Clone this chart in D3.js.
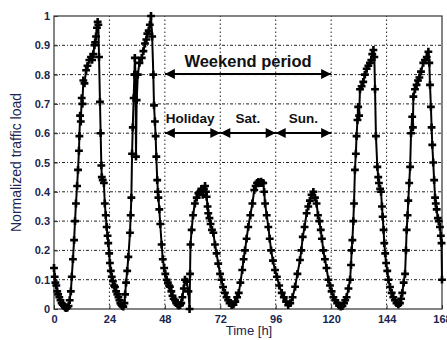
<!DOCTYPE html>
<html>
<head>
<meta charset="utf-8">
<script src="https://cdn.jsdelivr.net/npm/d3@7"></script>
<style>
  body { margin:0; background:#fff; }
  text { font-family: Arial, "Liberation Sans", sans-serif; }
</style>
</head>
<body>
<div id="chart"></div>
<script>
//DATA
var hours = [0,0.3,0.6,1.0,1.4,1.8,2.3,2.8,3.3,3.8,4.3,4.8,5.3,5.8,6.3,6.8,7.3,7.7,8.2,8.7,9.1,9.5,10.0,10.4,10.8,11.0,11.3,11.6,12.0,12.3,12.7,13.2,13.9,14.5,15.3,16.0,16.5,17.0,17.5,17.8,18.2,18.6,18.9,19.2,19.5,19.9,20.2,20.5,20.7,21.1,21.6,22.0,22.4,22.8,23.2,23.5,23.9,24.2,24.6,25.0,25.5,26.0,26.4,26.9,27.4,27.9,28.3,28.7,29.1,29.5,30.0,30.5,30.8,31.2,31.7,32.2,32.9,33.2,33.5,33.8,34.1,34.5,34.8,35.0,35.3,35.5,35.8,36.3,37.0,38.0,38.7,39.4,40.0,40.4,41.0,41.5,42.0,42.5,43.0,43.3,43.7,44.0,44.3,44.7,45.0,45.2,45.6,46.0,46.6,47.1,47.7,48.2,48.8,49.3,49.8,50.2,50.8,51.3,51.8,52.4,52.9,53.5,54.0,54.6,55.1,55.6,56.2,56.7,57.4,58.2,58.7,58.9,59.1,59.6,60.2,61.0,61.8,62.5,63.2,63.8,64.4,64.9,65.4,65.8,66.1,66.5,66.8,67.3,67.8,68.4,69.0,69.7,70.4,71.1,71.9,72.5,73.2,74.0,74.7,75.4,76.0,76.9,77.7,78.5,79.3,80.0,80.7,81.5,82.1,82.7,83.4,84.1,85.0,85.9,86.7,87.3,87.9,88.5,89.1,89.7,90.2,90.6,91.0,91.4,92.1,92.8,93.4,94.0,94.8,95.7,96.5,97.5,98.6,99.5,100.5,101.4,102.3,103.3,104.4,105.4,106.5,107.1,107.7,108.5,109.4,110.1,110.8,111.5,112.3,113.0,113.7,114.3,114.9,115.5,116.0,116.6,117.3,118.0,118.8,119.5,120.2,121.0,121.8,122.6,123.4,124.2,124.9,125.6,126.1,126.7,127.5,128.2,128.6,128.9,129.2,129.6,129.9,130.3,130.7,131.0,131.4,131.7,132.1,132.5,133.2,133.9,134.6,135.4,136.1,136.8,137.4,137.8,138.3,138.7,139.0,139.4,140.0,140.4,140.7,141.2,141.6,142.0,142.3,142.7,143.0,143.4,143.8,144.3,144.8,145.5,146.2,146.9,147.6,148.3,149.1,149.8,150.3,150.8,151.4,152.0,152.4,152.7,153.1,153.4,153.8,154.2,154.6,155.1,155.4,155.6,156.3,157.0,157.6,158.2,158.9,159.9,160.6,161.4,162.1,162.5,162.8,163.2,163.5,163.8,164.2,164.6,165.0,165.3,165.7,166.2,166.6,167.1,167.5,167.8,168];
var load = [0.14,0.11,0.09,0.08,0.06,0.05,0.04,0.03,0.02,0.015,0.01,0.005,0.003,0.005,0.01,0.03,0.06,0.11,0.17,0.235,0.30,0.36,0.42,0.475,0.54,0.59,0.66,0.64,0.72,0.70,0.78,0.77,0.815,0.83,0.85,0.86,0.85,0.87,0.90,0.91,0.93,0.96,0.98,0.97,0.86,0.707,0.60,0.49,0.45,0.44,0.43,0.36,0.32,0.28,0.25,0.225,0.19,0.157,0.13,0.11,0.095,0.08,0.075,0.06,0.05,0.04,0.03,0.02,0.015,0.01,0.008,0.02,0.05,0.09,0.13,0.178,0.26,0.32,0.38,0.53,0.62,0.72,0.80,0.857,0.80,0.52,0.713,0.80,0.84,0.857,0.88,0.906,0.92,0.94,0.95,0.97,1.0,0.93,0.80,0.695,0.64,0.59,0.52,0.44,0.40,0.38,0.34,0.29,0.22,0.17,0.14,0.12,0.10,0.09,0.08,0.076,0.06,0.045,0.035,0.03,0.02,0.015,0.012,0.013,0.02,0.04,0.07,0.10,0.093,0.06,0.0,0.12,0.22,0.27,0.32,0.36,0.38,0.395,0.40,0.41,0.39,0.41,0.42,0.40,0.383,0.35,0.327,0.31,0.29,0.27,0.26,0.22,0.19,0.155,0.12,0.10,0.075,0.055,0.04,0.03,0.02,0.013,0.015,0.025,0.04,0.055,0.09,0.133,0.17,0.20,0.24,0.28,0.32,0.36,0.406,0.42,0.43,0.434,0.43,0.435,0.43,0.43,0.40,0.36,0.32,0.28,0.24,0.20,0.165,0.133,0.11,0.08,0.055,0.04,0.025,0.013,0.02,0.04,0.076,0.12,0.167,0.20,0.246,0.28,0.327,0.35,0.37,0.39,0.40,0.38,0.36,0.32,0.30,0.27,0.24,0.20,0.17,0.14,0.10,0.08,0.06,0.04,0.03,0.02,0.012,0.008,0.01,0.02,0.03,0.04,0.07,0.10,0.15,0.20,0.235,0.30,0.36,0.475,0.53,0.59,0.645,0.69,0.66,0.75,0.76,0.775,0.80,0.82,0.83,0.84,0.85,0.87,0.884,0.86,0.75,0.59,0.485,0.45,0.43,0.41,0.40,0.35,0.315,0.27,0.225,0.19,0.157,0.13,0.10,0.075,0.055,0.04,0.03,0.02,0.015,0.02,0.035,0.055,0.09,0.12,0.20,0.27,0.32,0.37,0.43,0.485,0.60,0.656,0.62,0.725,0.75,0.765,0.78,0.79,0.81,0.84,0.85,0.86,0.878,0.84,0.765,0.69,0.62,0.56,0.50,0.44,0.38,0.36,0.34,0.31,0.30,0.28,0.25,0.225,0.10];

var xTicks = [0,24,48,72,96,120,144,168];
var yTicks = [0,0.1,0.2,0.3,0.4,0.5,0.6,0.7,0.8,0.9,1];

var periods = [
  {from:48, to:72, label:"Holiday"},
  {from:72, to:96, label:"Sat."},
  {from:96, to:120, label:"Sun."}
];
var weekend = {from:48, to:120, label:"Weekend period"};

//LAYOUT
var width = 447, height = 340;
var m = {left:54, right:5, top:16, bottom:31};

var svg = d3.select("#chart").append("svg")
  .attr("width", width)
  .attr("height", height);

var x = d3.scaleLinear().domain([0,168]).range([m.left, width - m.right]);
var y = d3.scaleLinear().domain([0,1]).range([height - m.bottom, m.top]);

var ink = "#1a2550";

//grid
svg.append("g").selectAll("line").data(xTicks.slice(1,-1)).join("line")
  .attr("x1", d => x(d)).attr("x2", d => x(d))
  .attr("y1", y(0)).attr("y2", y(1))
  .attr("stroke","#222").attr("stroke-width",1).attr("stroke-dasharray","1.5,2.5");
svg.append("g").selectAll("line").data(yTicks.slice(1,-1)).join("line")
  .attr("x1", x(0)).attr("x2", x(168))
  .attr("y1", d => y(d)).attr("y2", d => y(d))
  .attr("stroke","#222").attr("stroke-width",1).attr("stroke-dasharray","3,2,1,2");

//axes
var xAxis = svg.append("g")
  .attr("transform","translate(0," + y(0) + ")")
  .call(d3.axisBottom(x).tickValues(xTicks).tickSize(-4).tickPadding(6).tickFormat(d3.format("d")));
var yAxis = svg.append("g")
  .attr("transform","translate(" + x(0) + ",0)")
  .call(d3.axisLeft(y).tickValues(yTicks).tickSize(-4).tickPadding(4).tickFormat(d => d3.format("")(+d.toFixed(1))));
[xAxis, yAxis].forEach(function(a){
  a.select(".domain").remove();
  a.selectAll("line").attr("stroke","#333");
  a.selectAll("text").attr("fill",ink).attr("font-size","11px").attr("font-weight","bold");
});

//box
svg.append("rect")
  .attr("x", x(0)).attr("y", y(1))
  .attr("width", x(168) - x(0)).attr("height", y(0) - y(1))
  .attr("fill","none").attr("stroke","#333").attr("stroke-width",1.2);

//series
var pts = hours.map((h,i) => [h, load[i]]);
svg.append("path")
  .datum(pts)
  .attr("fill","none").attr("stroke","#000").attr("stroke-width",2)
  .attr("d", d3.line().x(d => x(d[0])).y(d => y(d[1])));

var cross = d3.symbol().type(d3.symbolCross).size(34);
svg.append("g").selectAll("path").data(pts).join("path")
  .attr("transform", d => "translate(" + x(d[0]) + "," + y(d[1]) + ")")
  .attr("d", cross).attr("fill","#000");

//annotations
var defs = svg.append("defs");
defs.append("marker").attr("id","ah")
  .attr("viewBox","0 0 10 10").attr("refX",10).attr("refY",5)
  .attr("markerWidth",6).attr("markerHeight",5).attr("markerUnits","strokeWidth")
  .attr("orient","auto-start-reverse")
  .append("path").attr("d","M0,0L10,5L0,10z").attr("fill","#000");

function arrow(a, b, yy){
  svg.append("line")
    .attr("x1", x(a)).attr("x2", x(b)).attr("y1", yy).attr("y2", yy)
    .attr("stroke","#000").attr("stroke-width",2)
    .attr("marker-start","url(#ah)").attr("marker-end","url(#ah)");
}

arrow(weekend.from, weekend.to, 74);
svg.append("text")
  .attr("x", x((weekend.from + weekend.to)/2)).attr("y", 67)
  .attr("text-anchor","middle").attr("font-size","16.5px").attr("font-weight","bold")
  .attr("fill","#111").text(weekend.label);

periods.forEach(function(p, i){
  arrow(p.from, p.to, 133);
  var cx = i == 0 ? x(p.from) + 1 : x((p.from + p.to)/2);
  svg.append("text")
    .attr("x", cx).attr("y", 123)
    .attr("text-anchor", i == 0 ? "start" : "middle")
    .attr("font-size","13.5px").attr("font-weight","bold")
    .attr("fill","#111").text(p.label);
});

//titles
svg.append("text")
  .attr("transform","translate(21," + ((y(0)+y(1))/2) + ") rotate(-90)")
  .attr("text-anchor","middle").attr("font-size","14px")
  .attr("fill",ink).text("Normalized traffic load");
svg.append("text")
  .attr("x", 249).attr("y", 335)
  .attr("text-anchor","middle").attr("font-size","13px")
  .attr("fill",ink).text("Time [h]");
</script>
</body>
</html>
